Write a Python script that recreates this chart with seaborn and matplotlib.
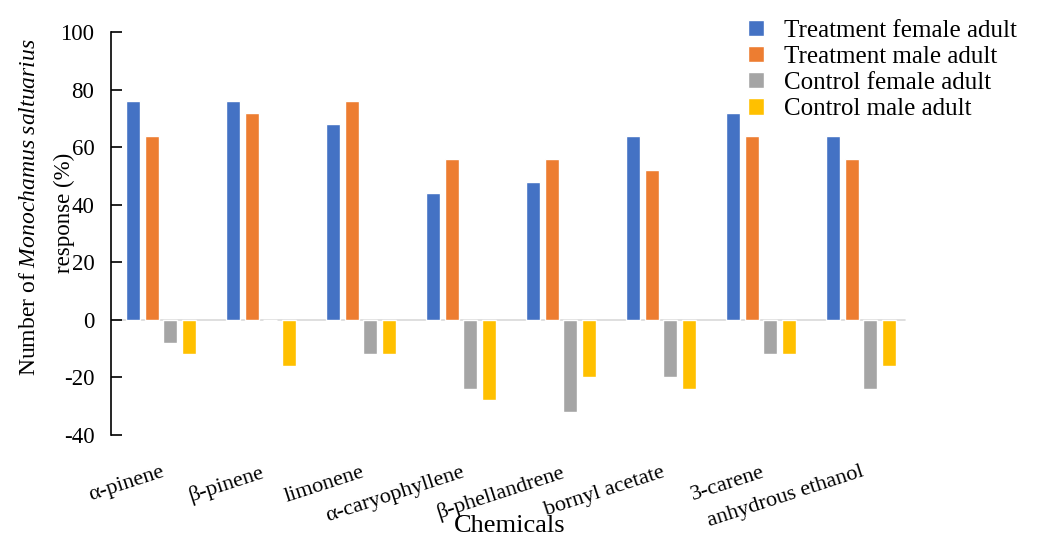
import numpy as np
import pandas as pd
import matplotlib
matplotlib.use("Agg")
import matplotlib.pyplot as plt
import seaborn as sns

# Response rates (%) of Monochamus saltuarius to each chemical
chemicals = ["α-pinene", "β-pinene", "limonene", "α-caryophyllene",
             "β-phellandrene", "bornyl acetate", "3-carene", "anhydrous ethanol"]
treatment_female = [76, 76, 68, 44, 48, 64, 72, 64]
treatment_male = [64, 72, 76, 56, 56, 52, 64, 56]
control_female = [-8, 0, -12, -24, -32, -20, -12, -24]
control_male = [-12, -16, -12, -28, -20, -24, -12, -16]

groups = ["Treatment female adult", "Treatment male adult",
          "Control female adult", "Control male adult"]
colors = ["#4472C4", "#ED7D31", "#A5A5A5", "#FFC000"]
yticks = [-40, -20, 0, 20, 40, 60, 80, 100]

series = [treatment_female, treatment_male, control_female, control_male]
df = pd.DataFrame({
    "Chemical": np.tile(chemicals, len(groups)),
    "Group": np.repeat(groups, len(chemicals)),
    "Response": np.concatenate(series),
})

sns.set_style("white")
plt.rcParams["font.family"] = ["Liberation Serif", "DejaVu Serif"]
plt.rcParams["mathtext.fontset"] = "custom"
plt.rcParams["mathtext.it"] = "Liberation Serif:italic"
plt.rcParams["mathtext.rm"] = "Liberation Serif"
plt.rcParams["text.color"] = "black"
plt.rcParams["xtick.color"] = "black"
plt.rcParams["ytick.color"] = "black"
plt.rcParams["axes.labelcolor"] = "black"

fig = plt.figure(figsize=(10.6, 5.44), dpi=100)
ax = fig.add_axes([111 / 1060, 1 - 435 / 544, 800 / 1060, 403 / 544])

sns.barplot(data=df, x="Chemical", y="Response", hue="Group",
            order=chemicals, hue_order=groups, palette=colors,
            saturation=1, width=0.74, gap=0.25, errorbar=None, ax=ax)

ax.axhline(0, xmin=0, xmax=0.992, color="#D9D9D9", lw=1.2, zorder=0.5)

ax.set_xlim(-0.5, 7.5)
ax.set_ylim(-40, 100)
ax.set_yticks(yticks)
ax.set_yticklabels([str(t) for t in yticks], fontsize=16.5)

for side in ["top", "right", "bottom"]:
    ax.spines[side].set_visible(False)
ax.spines["left"].set_color("black")
ax.spines["left"].set_linewidth(1.2)
ax.tick_params(axis="y", direction="in", length=8, width=1.2,
               color="black", pad=12, left=True)
ax.tick_params(axis="x", length=0, pad=20)

ax.set_xticks(range(len(chemicals)))
ax.set_xticklabels(chemicals, fontsize=16, rotation=18,
                   ha="right", va="top", rotation_mode="anchor")

ax.set_xlabel("")
ax.set_ylabel("")
fig.text(30 / 1060, 1 - 207 / 544,
         r"Number of $\it{Monochamus\ saltuarius}$",
         rotation=90, ha="center", va="center", fontsize=17)
fig.text(64 / 1060, 1 - 213 / 544, "response (%)",
         rotation=90, ha="center", va="center", fontsize=16.5)
fig.text(510 / 1060, 1 - 526 / 544, "Chemicals",
         ha="center", va="center", fontsize=19)

handles, labels = ax.get_legend_handles_labels()
ax.legend(handles, labels, loc="upper left",
          bbox_to_anchor=(735 / 1060, 1 - 7 / 544),
          bbox_transform=fig.transFigure, frameon=False, borderpad=0,
          handlelength=0.65, handleheight=0.65, handletextpad=0.8,
          labelspacing=0.16, fontsize=18)

ax.grid(False)
fig.savefig("out.png", dpi=100, facecolor="white")
